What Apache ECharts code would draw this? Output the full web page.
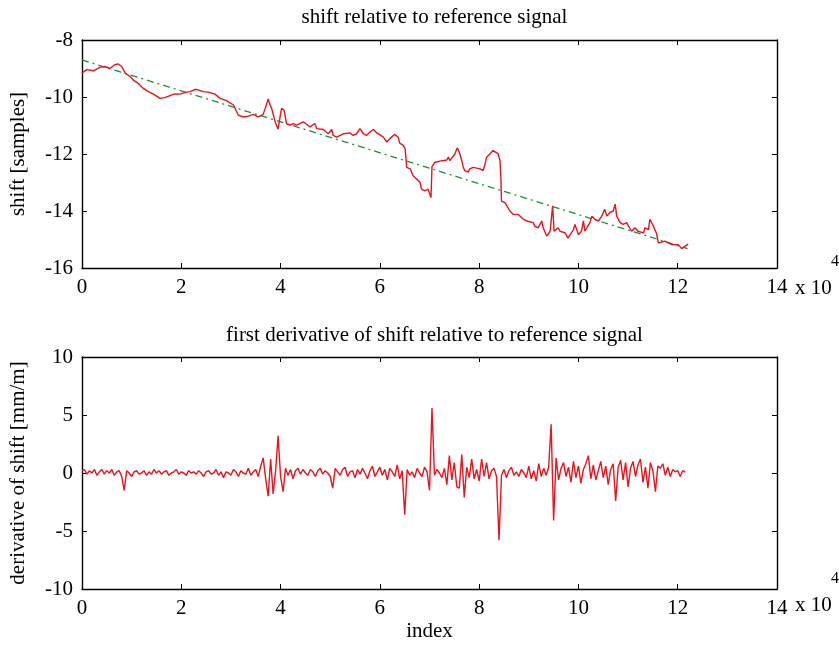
<!DOCTYPE html>
<html><head><meta charset="utf-8">
<script src="https://cdn.jsdelivr.net/npm/echarts@6/dist/echarts.min.js"></script>
<style>html,body{margin:0;padding:0;background:#fff}#c{width:839px;height:646px}</style>
</head><body><div id="c"></div>
<script>
// ---- data ----
var titles = ['shift relative to reference signal', 'first derivative of shift relative to reference signal'];
var xTicks = [0, 20000, 40000, 60000, 80000, 100000, 120000, 140000];
var shiftX = [0,950,2300,3600,4600,5600,6600,7300,8000,8700,9700,10300,11300,12300,13400,14400,15700,16700,17700,18700,19700,21100,21800,22800,23400,24400,25400,26800,27800,29100,30500,31500,32500,33500,34500,35500,36500,36900,37500,37900,38200,38900,39500,39900,40200,40700,41200,41900,42600,43200,44600,45900,46900,47300,48600,49600,50300,50600,51300,52600,54000,54600,55300,56000,56700,57300,58000,58700,59400,60700,61400,62000,63000,63700,64000,64700,65100,65400,66100,66700,67400,68100,68400,69100,69700,70100,70300,70500,71100,72100,73500,73800,74100,75100,75600,76000,76500,76800,77100,77500,77800,78100,78800,80200,80800,81200,81500,82200,82800,83200,83800,84200,84400,84500,85200,86200,86900,87900,88900,89600,90900,91200,91900,92600,92900,93600,94300,94600,94800,95100,95900,96300,97300,97900,99000,99300,100000,100600,101000,101300,102300,102700,103300,104000,104700,105300,105700,106300,107000,107400,107700,108400,109000,109700,110700,111400,112000,113100,113400,114100,114400,115100,115700,116100,117400,118800,120100,120800,122100];
var shiftY = [-9.16,-9.04,-9.08,-8.96,-8.93,-9.0,-8.87,-8.84,-8.93,-9.16,-9.28,-9.40,-9.52,-9.69,-9.81,-9.90,-10.05,-10.02,-9.95,-9.89,-9.90,-9.83,-9.81,-9.73,-9.75,-9.81,-9.83,-9.90,-10.05,-10.13,-10.28,-10.64,-10.70,-10.67,-10.61,-10.70,-10.61,-10.40,-10.07,-10.28,-10.40,-10.87,-11.13,-10.70,-10.40,-10.46,-10.93,-10.99,-10.93,-10.99,-10.87,-11.05,-10.93,-11.11,-11.14,-11.29,-11.14,-11.35,-11.41,-11.29,-11.26,-11.35,-11.29,-11.11,-11.29,-11.35,-11.23,-11.14,-11.26,-11.41,-11.58,-11.46,-11.31,-11.41,-11.62,-11.70,-11.82,-12.47,-12.52,-12.76,-12.88,-13.00,-13.23,-13.29,-13.23,-13.29,-13.53,-12.44,-12.29,-12.25,-12.21,-12.11,-12.23,-12.00,-11.78,-11.94,-12.23,-12.47,-12.58,-12.52,-12.64,-12.52,-12.47,-12.52,-12.58,-12.35,-12.11,-11.99,-11.88,-11.82,-11.99,-12.23,-12.94,-13.65,-13.71,-14.00,-14.12,-14.12,-14.29,-14.35,-14.41,-14.53,-14.59,-14.35,-14.59,-14.88,-14.71,-14.77,-13.82,-14.71,-14.59,-14.71,-14.77,-14.95,-14.65,-14.47,-14.83,-14.71,-14.35,-14.71,-14.41,-14.18,-14.29,-14.35,-14.18,-13.94,-14.18,-14.06,-14.00,-13.76,-14.18,-14.41,-14.47,-14.41,-14.71,-14.59,-14.71,-14.77,-14.59,-14.65,-14.29,-14.53,-14.77,-15.12,-15.06,-15.18,-15.18,-15.32,-15.16];
var fitX = [0, 122000];
var fitY = [-8.70, -15.32];
var derivStep = 500;
var derivY = [
0.2,0.3,-0.1,0.2,0.0,0.3,-0.2,0.1,0.3,-0.1,
0.2,0.0,0.3,-0.2,0.1,0.2,-0.3,-1.5,0.2,0.0,
-0.3,0.1,0.2,-0.1,0.0,0.2,-0.2,0.1,-0.1,0.3,
0.0,0.2,-0.1,0.1,0.2,-0.2,0.0,0.1,0.3,-0.1,
0.1,0.0,-0.2,0.2,0.0,0.1,-0.1,0.2,0.0,-0.3,
0.1,0.2,-0.1,0.0,0.3,-0.2,0.1,-0.4,0.1,0.0,
-0.2,0.3,0.1,-0.3,0.2,0.0,-0.1,0.4,-0.2,0.1,
0.3,-0.3,0.6,1.3,-0.5,-2.0,1.2,-1.8,0.2,3.2,
-0.3,-1.6,0.4,-0.2,0.3,-0.5,0.2,0.4,-0.1,0.3,
0.0,-0.2,0.3,0.1,-0.3,0.2,0.4,-0.1,0.2,0.0,
-0.3,-1.3,0.4,0.1,-0.2,0.3,0.5,-0.3,0.1,0.2,
-0.4,0.3,-0.1,0.4,0.0,-0.5,0.2,0.6,-0.3,0.1,
0.5,-0.2,0.3,-0.6,0.4,0.1,-0.3,0.7,-0.5,0.2,
-3.6,0.3,-0.2,0.1,-0.4,0.4,0.0,-0.3,0.5,0.1,
-1.5,5.6,-0.2,0.3,0.0,-0.4,0.4,-1.0,1.5,-0.6,
0.9,-1.2,-1.3,1.6,-2.1,0.5,-0.4,1.2,-0.5,0.3,
-0.7,1.2,-0.3,0.9,-0.5,0.2,0.4,-0.3,-5.8,-0.2,
0.3,-0.4,0.2,0.5,-0.2,0.1,-0.3,0.3,0.0,-0.4,
0.6,-0.5,0.2,-0.7,0.8,-0.3,0.4,-0.2,0.5,4.2,
-4.1,1.3,-0.6,0.4,0.9,-0.3,0.5,-0.8,1.0,-0.4,
0.6,-0.9,0.3,0.8,1.5,-0.5,0.7,-0.6,0.2,1.0,
-0.4,0.6,-1.0,0.3,0.8,-2.4,0.5,1.1,-0.6,0.9,
-1.2,0.4,1.0,-0.3,0.7,1.2,-0.8,0.5,-1.3,0.9,
0.2,-1.6,0.6,0.4,0.8,-0.2,0.5,-0.3,0.3,0.1,
0.2,-0.3,0.2,0.1];

// ---- chart ----
var FONT = 'Liberation Serif';
var FS = 21;
var RED = '#e8141e', GREEN = '#1f8f3a';
function zip(a, b) { return a.map(function (v, i) { return [v, b[i]]; }); }
var derivData = derivY.map(function (v, i) { return [i * derivStep, v]; });

var grids = [
  { left: 82, top: 40, width: 695, height: 228 },
  { left: 82, top: 357, width: 695, height: 232 }
];
function xAx(g, pos, labels, name) {
  return {
    type: 'value', gridIndex: g, position: pos, min: 0, max: 140000, interval: 20000,
    axisLine: { show: true, onZero: false, lineStyle: { color: '#000', width: 1.4 } },
    axisTick: { show: true, inside: true, length: 5, lineStyle: { color: '#000' } },
    splitLine: { show: false },
    axisLabel: { show: labels, margin: 9, color: '#000', fontFamily: FONT, fontSize: FS,
      formatter: function (v) { return String(v / 10000); } },
    name: name || '', nameLocation: 'middle', nameGap: 32,
    nameTextStyle: { color: '#000', fontFamily: FONT, fontSize: FS }
  };
}
function yAx(g, pos, labels, min, max, itv, name, gap) {
  return {
    type: 'value', gridIndex: g, position: pos, min: min, max: max, interval: itv,
    axisLine: { show: true, onZero: false, lineStyle: { color: '#000', width: 1.4 } },
    axisTick: { show: true, inside: true, length: 5, lineStyle: { color: '#000' } },
    splitLine: { show: false },
    axisLabel: { show: labels, margin: 9, color: '#000', fontFamily: FONT, fontSize: FS },
    name: name || '', nameLocation: 'middle', nameGap: gap || 50, nameRotate: 90,
    nameTextStyle: { color: '#000', fontFamily: FONT, fontSize: FS }
  };
}
var option = {
  animation: false,
  backgroundColor: '#fff',
  title: [
    { text: titles[0], left: 429.5, top: 2, textAlign: 'center',
      textStyle: { fontFamily: FONT, fontSize: FS, fontWeight: 'normal', color: '#000' } },
    { text: titles[1], left: 429.5, top: 320, textAlign: 'center',
      textStyle: { fontFamily: FONT, fontSize: FS, fontWeight: 'normal', color: '#000' } }
  ],
  grid: grids,
  xAxis: [xAx(0, 'bottom', true), xAx(0, 'top', false), xAx(1, 'bottom', true, 'index'), xAx(1, 'top', false)],
  yAxis: [
    yAx(0, 'left', true, -16, -8, 2, 'shift [samples]', 53),
    yAx(0, 'right', false, -16, -8, 2),
    yAx(1, 'left', true, -10, 10, 5, 'derivative of shift [mm/m]', 53),
    yAx(1, 'right', false, -10, 10, 5)
  ],
  graphic: [
    { type: 'text', left: 795, top: 278, style: { text: 'x 10', font: FS + 'px "' + FONT + '"', fill: '#000' } },
    { type: 'text', left: 831, top: 254, style: { text: '4', font: '16px "' + FONT + '"', fill: '#000' } },
    { type: 'text', left: 795, top: 595, style: { text: 'x 10', font: FS + 'px "' + FONT + '"', fill: '#000' } },
    { type: 'text', left: 831, top: 571, style: { text: '4', font: '16px "' + FONT + '"', fill: '#000' } }
  ],
  series: [
    { type: 'line', xAxisIndex: 0, yAxisIndex: 0, data: zip(shiftX, shiftY), showSymbol: false,
      lineStyle: { color: RED, width: 1.4 }, z: 3 },
    { type: 'line', xAxisIndex: 0, yAxisIndex: 0, data: zip(fitX, fitY), showSymbol: false,
      lineStyle: { color: GREEN, width: 1.3, type: [7, 4, 2, 4] }, z: 2 },
    { type: 'line', xAxisIndex: 2, yAxisIndex: 2, data: derivData, showSymbol: false,
      lineStyle: { color: RED, width: 1.4 } }
  ]
};
var chart = echarts.init(document.getElementById('c'), null, { renderer: 'canvas' });
chart.setOption(option);
</script></body></html>
